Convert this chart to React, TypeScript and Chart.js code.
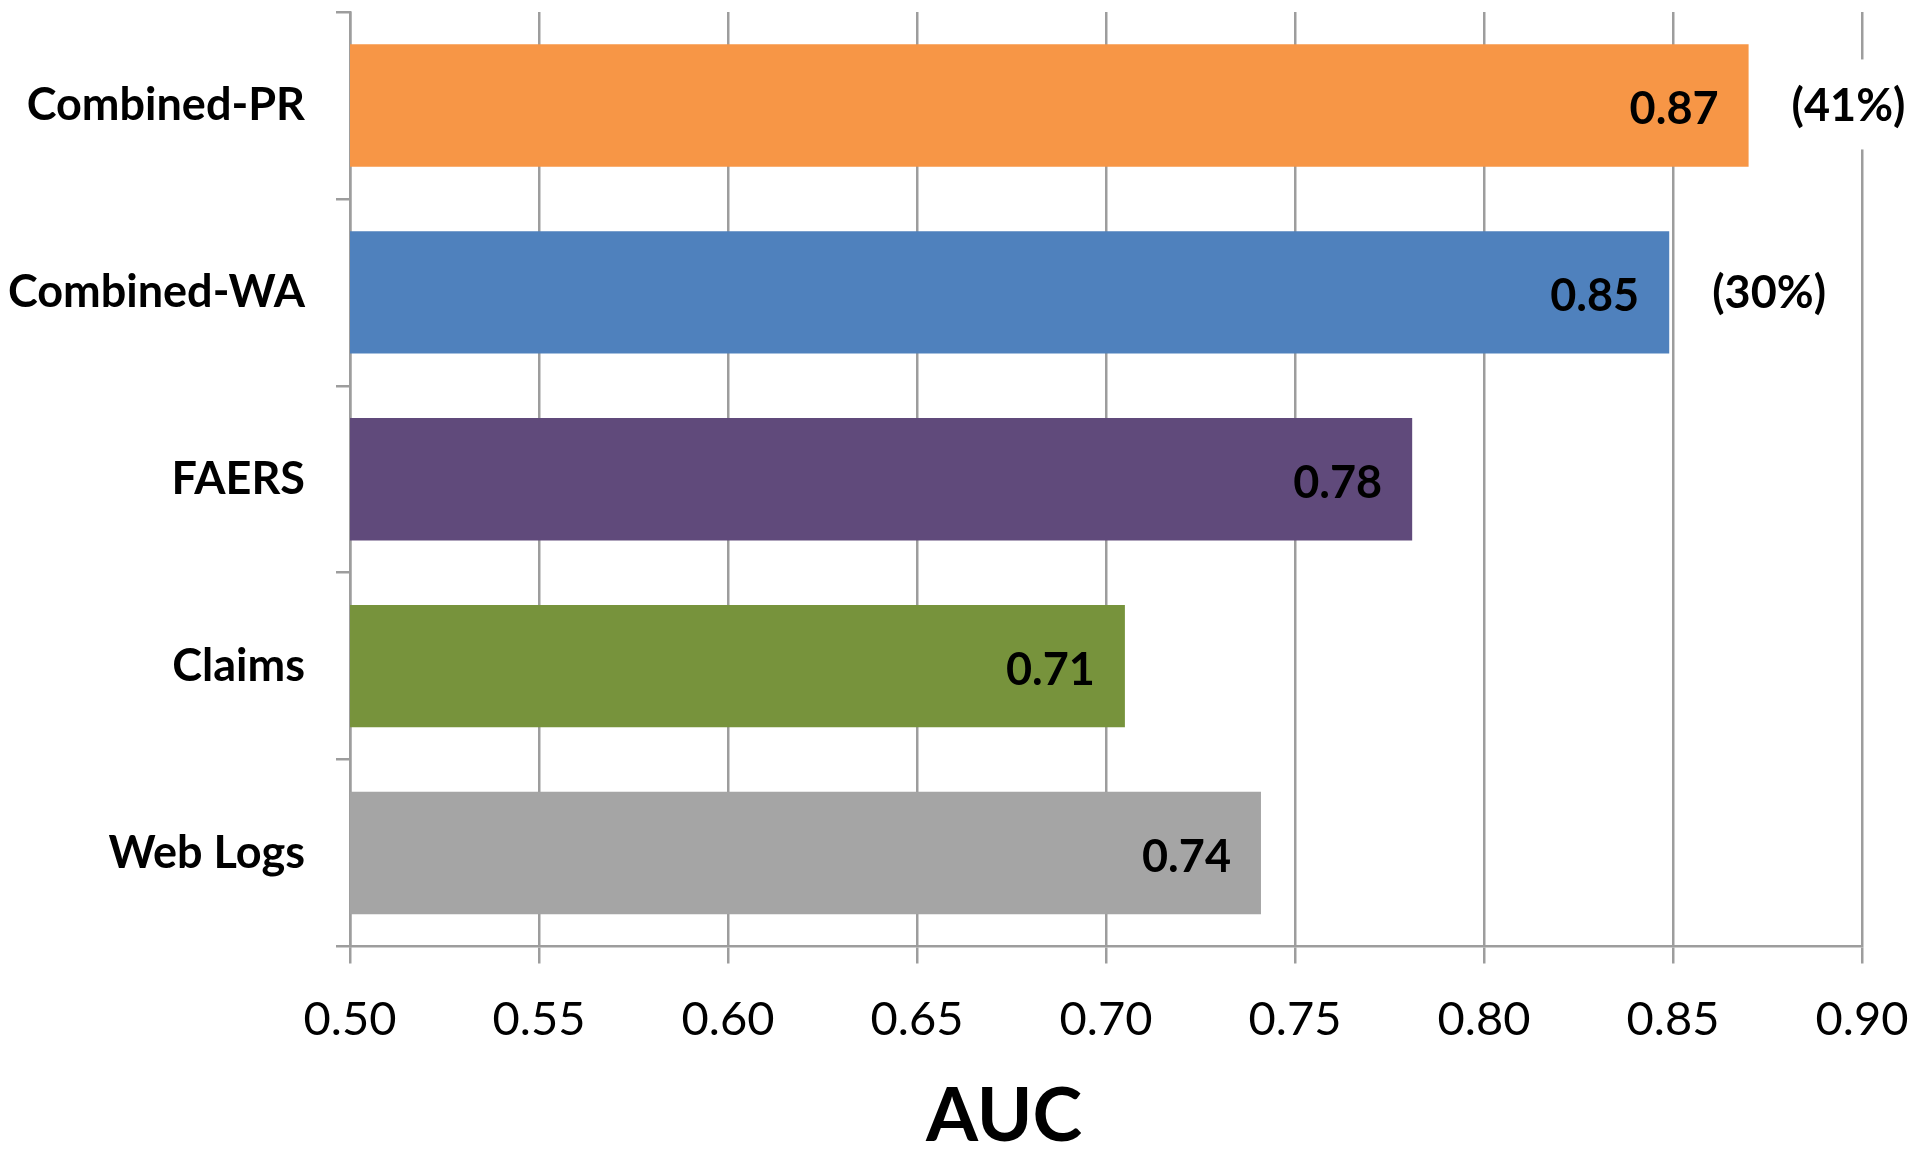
import React, { useEffect, useRef } from "react";
import { Chart, registerables } from "chart.js";

Chart.register(...registerables);

const categories = ["Combined-PR", "Combined-WA", "FAERS", "Claims", "Web Logs"];
const aucValues = [0.87, 0.849, 0.781, 0.705, 0.741];
const valueLabels = ["0.87", "0.85", "0.78", "0.71", "0.74"];
const improvementLabels = ["(41%)", "(30%)", "", "", ""];
const barColors = ["#F79646", "#4F81BD", "#604A7B", "#77933C", "#A5A5A5"];
const xMin = 0.5;
const xMax = 0.9;
const xStep = 0.05;
const axisTitle = "AUC";

const FONT = "Lato";
const GRID = "#9d9d9d";

const labelPlugin = {
  id: "barLabels",
  afterDatasetsDraw(chart: any) {
    const ctx = chart.ctx;
    const meta = chart.getDatasetMeta(0);
    ctx.save();
    meta.data.forEach((bar: any, i: number) => {
      const { x, y } = bar.getProps(["x", "y"], true);
      ctx.font = `bold 45px ${FONT}`;
      ctx.fillStyle = "#000";
      ctx.textAlign = "right";
      ctx.textBaseline = "middle";
      ctx.fillText(valueLabels[i], x - 30, y + 4);
      const pct = improvementLabels[i];
      if (pct) {
        const w = ctx.measureText(pct).width;
        ctx.fillStyle = "#fff";
        ctx.fillRect(x + 36, y - 46, w + 14, 90);
        ctx.fillStyle = "#000";
        ctx.textAlign = "left";
        ctx.fillText(pct, x + 43, y + 1);
      }
    });
    const area = chart.chartArea;
    ctx.font = `bold 75px ${FONT}`;
    ctx.fillStyle = "#000";
    ctx.textAlign = "center";
    ctx.textBaseline = "alphabetic";
    ctx.fillText(axisTitle, area.left + (area.right - area.left) * 0.4326, chart.height - 14);
    ctx.restore();
  },
};

export default function App() {
  const ref = useRef<HTMLCanvasElement | null>(null);
  useEffect(() => {
    document.body.style.margin = "0";
    document.body.style.overflow = "hidden";
    if (!ref.current) return;
    const chart = new Chart(ref.current, {
      type: "bar",
      data: {
        labels: categories,
        datasets: [
          {
            data: aucValues,
            backgroundColor: barColors,
            borderWidth: 0,
            barPercentage: 0.655,
            categoryPercentage: 1.0,
          },
        ],
      },
      options: {
        indexAxis: "y",
        responsive: false,
        animation: false,
        devicePixelRatio: 1,
        layout: { padding: { top: 12, right: 58, left: 0, bottom: 0 } },
        plugins: { legend: { display: false }, tooltip: { enabled: false } },
        scales: {
          x: {
            min: xMin,
            max: xMax,
            grid: { color: GRID, lineWidth: 2.5, tickLength: 17, drawTicks: true },
            border: { color: GRID, width: 2.5 },
            ticks: {
              stepSize: xStep,
              autoSkip: false,
              maxRotation: 0,
              callback: (v: any) => Number(v).toFixed(2),
              font: { family: FONT, size: 47 },
              color: "#000",
              padding: 28,
            },
            afterFit: (s: any) => {
              s.height = 208.5;
              s.paddingLeft = 0;
              s.paddingRight = 0;
              s.paddingTop = 0;
              s.paddingBottom = 0;
            },
          },
          y: {
            grid: {
              offset: true,
              drawOnChartArea: false,
              drawTicks: true,
              tickLength: 14,
              color: GRID,
              lineWidth: 2.5,
            },
            border: { color: GRID, width: 2.5 },
            ticks: {
              font: { family: FONT, size: 45, weight: "bold" },
              color: "#000",
              padding: 31,
            },
            afterFit: (s: any) => {
              s.width = 350;
              s.paddingLeft = 0;
              s.paddingRight = 0;
              s.paddingTop = 0;
              s.paddingBottom = 0;
            },
          },
        },
      },
      plugins: [labelPlugin],
    });
    return () => chart.destroy();
  }, []);
  return (
    <div style={{ width: 1920, height: 1155 }}>
      <canvas ref={ref} width={1920} height={1155} style={{ display: "block" }} />
    </div>
  );
}
